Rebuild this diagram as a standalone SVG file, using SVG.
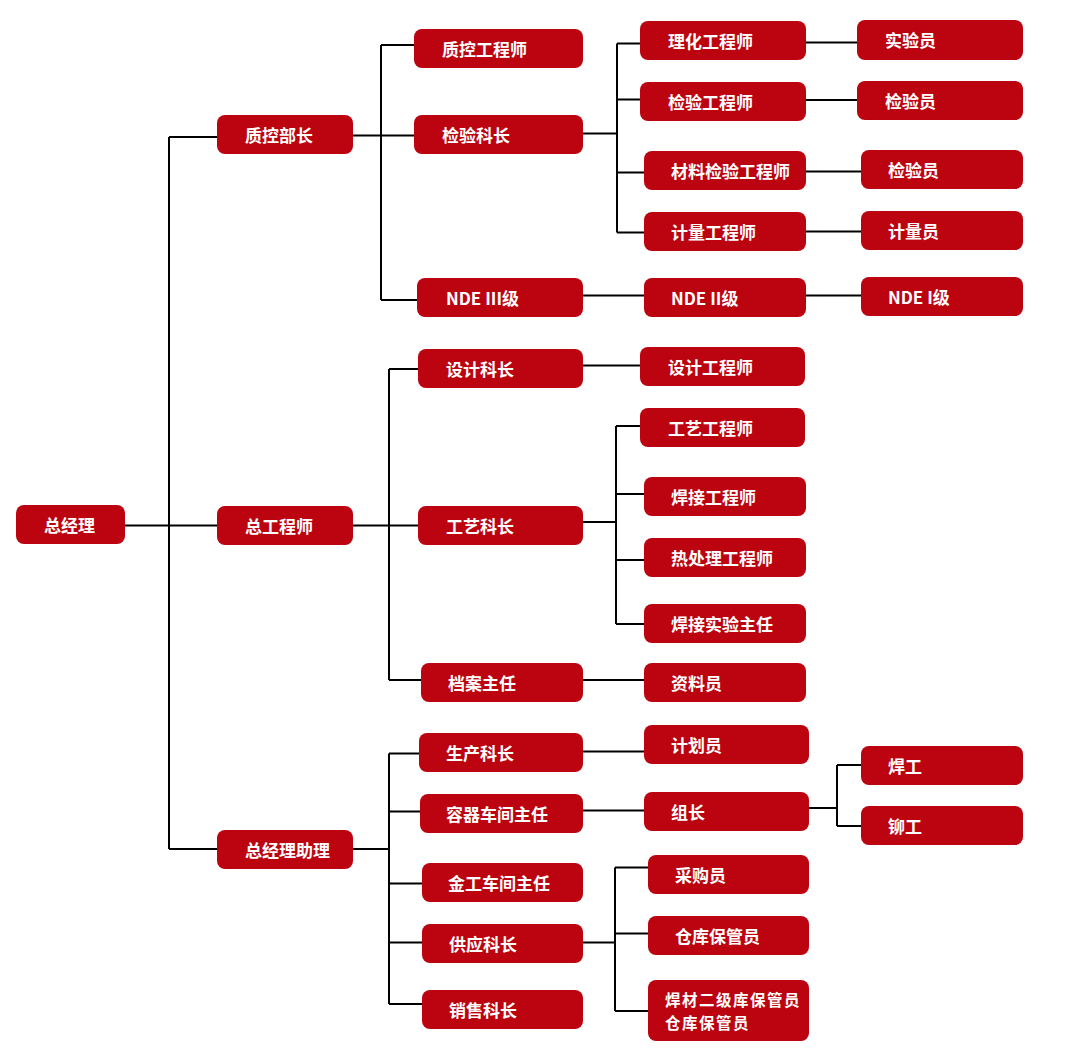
<svg xmlns="http://www.w3.org/2000/svg" width="1070" height="1057" viewBox="0 0 1070 1057">
<style>
.b{fill:#bc0410}
.t{fill:#fff;font-family:"Noto Sans CJK SC","Noto Sans",sans-serif;font-weight:bold;font-size:17px;dominant-baseline:central}
.s{font-size:15.5px;letter-spacing:1.5px}
.c{fill:none;stroke:#000;stroke-width:2}
</style>
<rect width="1070" height="1057" fill="#fff"/>
<g id="connectors" class="c">
<path d="M125,525.5H217M169,137V849M169,137H217M169,849H217"/>
<path d="M353,135.5H414M381,45V300M381,45H414M381,300H417"/>
<path d="M583,133.5H617M617,43.5V232.5M617,43.5H640M617,99.5H640M617,172.5H644M617,232.5H644"/>
<path d="M806,42.5H857M806,100H857M806,171.5H861M806,231.5H861M583,295.5H644M806,295.5H861"/>
<path d="M353,525.5H418M389,369V680M389,369H418M389,680H421M583,365.5H640M583,680H644"/>
<path d="M583,522H616M616,426V624M616,426H640M616,494H644M616,560H644M616,624H644"/>
<path d="M353,849H389M389,753.5V1004M389,753.5H419M389,811.5H420M389,883.5H422M389,942.5H422M389,1004H422"/>
<path d="M583,751.5H644M583,810.5H644M809,808H837M837,765V826M837,765H861M837,826H861"/>
<path d="M583,942.5H615M615,867.5V1011M615,867.5H648M615,933.5H648M615,1011H648"/>
</g>
<g id="n1"><rect class="b" x="16" y="505" width="109" height="39" rx="8"/><text class="t" x="44" y="524">总经理</text></g>
<g id="n2"><rect class="b" x="217" y="115" width="136" height="39" rx="8"/><text class="t" x="245" y="134">质控部长</text></g>
<g id="n3"><rect class="b" x="217" y="506" width="136" height="39" rx="8"/><text class="t" x="245" y="525">总工程师</text></g>
<g id="n4"><rect class="b" x="217" y="830" width="136" height="39" rx="8"/><text class="t" x="245" y="849">总经理助理</text></g>
<g id="n5"><rect class="b" x="414" y="29" width="169" height="39" rx="8"/><text class="t" x="442" y="48">质控工程师</text></g>
<g id="n6"><rect class="b" x="414" y="115" width="169" height="39" rx="8"/><text class="t" x="442" y="134">检验科长</text></g>
<g id="n7"><rect class="b" x="417" y="278" width="166" height="39" rx="8"/><text class="t" x="446" y="297">NDE III级</text></g>
<g id="n8"><rect class="b" x="418" y="349" width="165" height="39" rx="8"/><text class="t" x="446" y="368">设计科长</text></g>
<g id="n9"><rect class="b" x="418" y="506" width="165" height="39" rx="8"/><text class="t" x="446" y="525">工艺科长</text></g>
<g id="n10"><rect class="b" x="421" y="663" width="162" height="39" rx="8"/><text class="t" x="448" y="682">档案主任</text></g>
<g id="n11"><rect class="b" x="419" y="733" width="164" height="39" rx="8"/><text class="t" x="446" y="752">生产科长</text></g>
<g id="n12"><rect class="b" x="420" y="794" width="163" height="39" rx="8"/><text class="t" x="446" y="813">容器车间主任</text></g>
<g id="n13"><rect class="b" x="422" y="863" width="161" height="39" rx="8"/><text class="t" x="448" y="882">金工车间主任</text></g>
<g id="n14"><rect class="b" x="422" y="924" width="161" height="39" rx="8"/><text class="t" x="449" y="943">供应科长</text></g>
<g id="n15"><rect class="b" x="422" y="990" width="161" height="39" rx="8"/><text class="t" x="449" y="1009">销售科长</text></g>
<g id="n16"><rect class="b" x="640" y="21" width="166" height="39" rx="8"/><text class="t" x="668" y="40">理化工程师</text></g>
<g id="n17"><rect class="b" x="640" y="82" width="166" height="39" rx="8"/><text class="t" x="668" y="101">检验工程师</text></g>
<g id="n18"><rect class="b" x="644" y="151" width="162" height="39" rx="8"/><text class="t" x="671" y="170">材料检验工程师</text></g>
<g id="n19"><rect class="b" x="644" y="212" width="162" height="39" rx="8"/><text class="t" x="671" y="231">计量工程师</text></g>
<g id="n20"><rect class="b" x="644" y="278" width="162" height="39" rx="8"/><text class="t" x="671" y="297">NDE II级</text></g>
<g id="n21"><rect class="b" x="857" y="20" width="166" height="40" rx="8"/><text class="t" x="885" y="39">实验员</text></g>
<g id="n22"><rect class="b" x="857" y="81" width="166" height="39" rx="8"/><text class="t" x="885" y="100">检验员</text></g>
<g id="n23"><rect class="b" x="861" y="150" width="162" height="39" rx="8"/><text class="t" x="888" y="169">检验员</text></g>
<g id="n24"><rect class="b" x="861" y="211" width="162" height="39" rx="8"/><text class="t" x="888" y="230">计量员</text></g>
<g id="n25"><rect class="b" x="861" y="277" width="162" height="39" rx="8"/><text class="t" x="888" y="296">NDE I级</text></g>
<g id="n26"><rect class="b" x="640" y="347" width="165" height="39" rx="8"/><text class="t" x="668" y="366">设计工程师</text></g>
<g id="n27"><rect class="b" x="640" y="408" width="165" height="39" rx="8"/><text class="t" x="668" y="427">工艺工程师</text></g>
<g id="n28"><rect class="b" x="644" y="477" width="162" height="39" rx="8"/><text class="t" x="671" y="496">焊接工程师</text></g>
<g id="n29"><rect class="b" x="644" y="538" width="162" height="39" rx="8"/><text class="t" x="671" y="557">热处理工程师</text></g>
<g id="n30"><rect class="b" x="644" y="604" width="162" height="39" rx="8"/><text class="t" x="671" y="623">焊接实验主任</text></g>
<g id="n31"><rect class="b" x="644" y="663" width="162" height="39" rx="8"/><text class="t" x="671" y="682">资料员</text></g>
<g id="n32"><rect class="b" x="644" y="725" width="165" height="39" rx="8"/><text class="t" x="671" y="744">计划员</text></g>
<g id="n33"><rect class="b" x="644" y="792" width="165" height="39" rx="8"/><text class="t" x="671" y="811">组长</text></g>
<g id="n34"><rect class="b" x="861" y="746" width="162" height="39" rx="8"/><text class="t" x="888" y="765">焊工</text></g>
<g id="n35"><rect class="b" x="861" y="806" width="162" height="39" rx="8"/><text class="t" x="888" y="825">铆工</text></g>
<g id="n36"><rect class="b" x="648" y="855" width="161" height="39" rx="8"/><text class="t" x="675" y="874">采购员</text></g>
<g id="n37"><rect class="b" x="648" y="916" width="161" height="39" rx="8"/><text class="t" x="675" y="935">仓库保管员</text></g>
<g id="n38"><rect class="b" x="648" y="980" width="161" height="61" rx="8"/><text class="t s" x="665" y="998.5">焊材二级库保管员</text><text class="t s" x="665" y="1021.5">仓库保管员</text></g>
</svg>
